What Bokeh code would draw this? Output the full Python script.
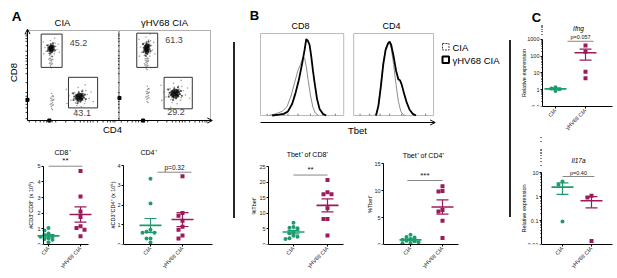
import math
import numpy as np
from bokeh.plotting import figure
from bokeh.models import (Range1d, FixedTicker, Label, Arrow, OpenHead,
                          Div, Spacer, NumeralTickFormatter)
from bokeh.layouts import row, column
from bokeh.embed import file_html
from bokeh.resources import INLINE

FONT = "Liberation Sans"
GREEN = "#1e9c6d"
MAGENTA = "#9a1c5b"

# ---------------- data ----------------
groups = ["CIA", "γHV68 CIA"]

# Panel A flow plots: gate percentages
gate_pct_cia = ["45.2", "43.1"]
gate_pct_hv = ["61.3", "29.2"]
# gates (flow units 0-100)
gate_cia_l = [15, 45]; gate_cia_r = [38, 77]; gate_cia_b = [59, 14]; gate_cia_t = [96, 48]
gate_hv_l = [19, 49]; gate_hv_r = [42, 80]; gate_hv_b = [59, 13]; gate_hv_t = [97, 48]
gate_txt_cia_x = [56, 60]; gate_txt_cia_y = [86, 8]
gate_txt_hv_x = [60, 62]; gate_txt_hv_y = [89, 9]
# cell populations (flow units): centre, spread, dense flag
clu_cia_x = [26, 26, 57, 27]; clu_cia_y = [80, 66, 26, 21]
clu_cia_sx = [2.5, 1.5, 4.2, 1.5]; clu_cia_sy = [3.5, 5, 4.2, 6]; clu_cia_dense = [1, 0, 1, 0]
clu_hv_x = [30, 30, 61, 31]; clu_hv_y = [80, 64, 30, 29]
clu_hv_sx = [2.5, 1.5, 4.5, 1.5]; clu_hv_sy = [5, 5, 4.5, 6]; clu_hv_dense = [1, 0, 1, 0]
cloud_dx = [0.1, -0.3, 0.4, -0.5, 0.7, -0.8, 0.2, -0.1, 0.9, -0.6, 1.2, -1.1, 0.5, -0.4, 1.0, -1.3, 0.3, -0.2,
            1.5, -1.6, 0.0, 0.6, -0.7, 0.8, -0.9, 0.15, -0.25, 0.35, -0.45, 0.55, 1.8, -1.9, 0.9, -0.6, 2.1, -2.0]
cloud_dy = [0.2, 0.5, -0.2, -0.4, 0.3, 0.1, -0.7, 0.9, -0.6, -0.9, 0.4, 0.6, 1.1, -1.3, 1.0, -0.5, -1.5, 1.5,
            -0.2, 0.2, 0.0, 0.6, 0.7, -1.0, -0.2, -0.35, 0.15, 0.45, -0.6, -0.45, 0.8, -1.0, 1.9, -2.0, -0.7, 1.2]
flow_ticks = [2, 9, 14, 18, 21, 24, 27, 31, 42, 52, 58, 62, 66, 69, 72, 77, 83, 88, 91, 94, 96]
zero_mark_cia = (24, 23)
zero_mark_hv = (26, 25)

# Panel A counts (x10^5)
cd8_cia = [1.05, 0.9, 0.7, 0.6, 0.55, 0.5, 0.4, 0.35, 0.3, 0.15]
cd8_hv = [4.7, 3.06, 2.1, 1.75, 1.16, 1.05, 0.95, 0.53]
cd4_cia = [3.33, 2.07, 0.75, 0.65, 0.6, 0.6, 0.3, 0.3, 0.1]
cd4_hv = [3.45, 1.6, 1.45, 1.2, 0.9, 0.75, 0.45, 0.3]

# Panel B histograms (x: Tbet scale 0-100, y: % of max)
h_cd8_hv_x = [14, 22, 28, 33, 38, 42, 46, 50, 53, 55, 57, 59, 61, 63, 65, 68, 71, 75, 79]
h_cd8_hv_y = [0, 1, 2, 5, 14, 27, 43, 63, 80, 93, 91, 86, 72, 55, 40, 20, 8, 2, 0]
h_cd8_cia_x = [10, 18, 26, 32, 37, 41, 45, 48, 51, 53, 55, 57, 60, 63, 66, 70]
h_cd8_cia_y = [0, 2, 5, 11, 25, 40, 55, 62, 71, 70, 60, 45, 25, 10, 3, 0]
h_cd4_hv_x = [28, 31, 34, 37, 40, 43, 45, 47, 50, 53, 56, 58, 60, 63, 66, 70, 74, 78]
h_cd4_hv_y = [0, 12, 35, 62, 80, 88, 90, 86, 72, 55, 44, 43, 38, 27, 17, 7, 2, 0]
h_cd4_cia_x = [28, 31, 34, 37, 40, 43, 45, 47, 50, 53, 56, 59, 62, 65]
h_cd4_cia_y = [0, 13, 38, 65, 82, 88, 88, 82, 62, 38, 17, 5, 1, 0]
hist_ticks = [8, 20, 27, 33, 45, 60, 75, 90]

# Panel B Tbet+ %
tbet_cd8_cia = [7.0, 5.6, 5.4, 5.2, 4.0, 3.6, 2.8, 2.5, 2.0, 1.8]
tbet_cd8_hv = [20.7, 16.8, 16.1, 16.1, 11.6, 8.2, 8.2, 2.9]
tbet_cd4_cia = [1.8, 1.4, 1.3, 1.0, 0.9, 0.7, 0.6, 0.4, 0.3, 0.2]
tbet_cd4_hv = [10.8, 9.9, 9.8, 6.4, 6.1, 4.4, 1.2]

# Panel C relative expression
ifng_cia = [1.4, 1.2, 1.05, 0.85]
ifng_hv = [436, 185, 11.7, 4.9]
il17a_cia = [4.2, 3.1, 0.091]
il17a_hv = [1.07, 0.91, 0.014]

sig_text = ["**", "p=0.32", "**", "***", "p=0.057", "p=0.40"]


# ---------------- helpers ----------------
def rng(d0, p0, d1, p1, pa, pb, log=False):
    """data range whose ends sit at page px pa, pb given two anchors (d0@p0, d1@p1)."""
    if log:
        d0, d1 = math.log10(d0), math.log10(d1)
    k = (d1 - d0) / (p1 - p0)
    a, b = d0 + (pa - p0) * k, d0 + (pb - p0) * k
    if log:
        return (10 ** a, 10 ** b)
    return (a, b)


class Map:
    def __init__(self, fx0, fx1, fy0, fy1, xr, yr, ylog=False):
        self.fx0, self.fx1, self.fy0, self.fy1 = fx0, fx1, fy0, fy1
        self.xr, self.yr, self.ylog = xr, yr, ylog

    def x(self, px):
        return self.xr[0] + (px - self.fx0) / (self.fx1 - self.fx0) * (self.xr[1] - self.xr[0])

    def y(self, py):
        t = (self.fy1 - py) / (self.fy1 - self.fy0)
        if self.ylog:
            a, b = math.log10(self.yr[0]), math.log10(self.yr[1])
            return 10 ** (a + t * (b - a))
        return self.yr[0] + t * (self.yr[1] - self.yr[0])

    def py(self, v):
        if self.ylog:
            a, b = math.log10(self.yr[0]), math.log10(self.yr[1])
            t = (math.log10(v) - a) / (b - a)
        else:
            t = (v - self.yr[0]) / (self.yr[1] - self.yr[0])
        return self.fy1 - t * (self.fy1 - self.fy0)


def new_fig(gx, gy, w, h, L, B, xr, yr, ylog=False, axes=True):
    kw = {}
    if not axes:
        kw = dict(x_axis_location=None, y_axis_location=None)
    p = figure(width=w, height=h, x_range=Range1d(*xr), y_range=Range1d(*yr),
               y_axis_type="log" if ylog else "linear", title=None,
               output_backend="svg", toolbar_location=None,
               min_border_left=L, min_border_right=0, min_border_top=0, min_border_bottom=B, **kw)
    p.outline_line_color = None
    p.xgrid.visible = False
    p.ygrid.visible = False
    p.background_fill_color = "white"
    p.border_fill_color = "white"
    m = Map(gx + L, gx + w, gy, gy + h - B, xr, yr, ylog)
    return p, m


def txt(p, m, px, py, text, size, style="normal", align="center", baseline="middle", color="black",
        angle=0.0):
    p.add_layout(Label(x=m.x(px), y=m.y(py), text=text, text_font=FONT, text_font_size=f"{size}px",
                       text_font_style=style, text_align=align, text_baseline=baseline,
                       text_color=color, angle=angle))


def style_axis(ax, fs=5.5):
    ax.axis_line_color = "black"
    ax.axis_line_width = 1
    ax.major_tick_line_color = "black"
    ax.major_tick_line_width = 1
    ax.major_tick_out = 2
    ax.major_tick_in = 0
    ax.minor_tick_line_color = None
    ax.major_label_text_font = FONT
    ax.major_label_text_font_size = f"{fs}px"
    ax.major_label_text_color = "#222"
    ax.major_label_standoff = 1
    ax.axis_label_text_font = FONT
    ax.axis_label_text_font_size = f"{fs}px"
    ax.axis_label_text_font_style = "normal"
    ax.axis_label_standoff = 2


def spread(vals, pxu_y, ylog, step=4.0, near=3.6):
    v = np.log10(vals) if ylog else np.asarray(vals, float)
    order = np.argsort(-v)
    placed = []
    offs = np.zeros(len(v))
    seq = [0, -1, 1, -2, 2, -3, 3]
    for i in order:
        ypx = v[i] * pxu_y
        used = {s for (yy, s) in placed if abs(yy - ypx) < near}
        slot = next(s for s in seq if s not in used)
        placed.append((ypx, slot))
        offs[i] = slot * step
    return offs


def dot_plot(box, axis_px, label_px, xanch, yanch, xend_px, a, b, ylog, yticks, ylabel,
             title, title_xy, bar_x, bar_y, sig, sig_size, title_style="normal", title_size=7):
    gx, gy, w, h, B = box
    fx0, fx1, fy0, fy1 = gx, gx + w, gy, gy + h - B
    xr = rng(xanch[0], xanch[1], xanch[2], xanch[3], fx0, fx1)
    yr = rng(yanch[0], yanch[1], yanch[2], yanch[3], fy1, fy0, ylog)
    p, m = new_fig(gx, gy, w, h, 0, B, xr, yr, ylog)
    pxu_x = (xanch[3] - xanch[1]) / (xanch[2] - xanch[0])
    if ylog:
        pxu_y = (yanch[1] - yanch[3]) / (math.log10(yanch[2]) - math.log10(yanch[0]))
    else:
        pxu_y = (yanch[1] - yanch[3]) / (yanch[2] - yanch[0])
    for k, (vals, color, marker) in enumerate([(a, GREEN, "circle"), (b, MAGENTA, "square")]):
        cat = k + 1
        vals = np.asarray(vals, float)
        off = spread(vals, pxu_y, ylog)
        p.scatter(cat + off / pxu_x, vals, marker=marker, size=4, color=color, line_width=0)
        mean = vals.mean()
        sem = vals.std(ddof=1) / math.sqrt(len(vals))
        mw, cw = 11 / pxu_x, 6 / pxu_x
        p.segment([cat - mw], [mean], [cat + mw], [mean], line_color=color, line_width=1.6)
        p.segment([cat, cat - cw, cat - cw], [mean - sem, mean + sem, mean - sem],
                  [cat, cat + cw, cat + cw], [mean + sem, mean + sem, mean - sem],
                  line_color=color, line_width=1.2)
    p.segment([bar_x[0]], [bar_y], [bar_x[1]], [bar_y], line_color="#888", line_width=1)
    p.add_layout(Label(x=(bar_x[0] + bar_x[1]) / 2, y=bar_y, text=sig, text_font=FONT,
                       text_font_size=f"{sig_size}px", text_align="center",
                       text_baseline="bottom", y_offset=1, text_color="#111"))
    txt(p, m, title_xy[0], title_xy[1], title, title_size, style=title_style)
    # y axis label, centred on the drawn axis
    if ylog:
        mid = 10 ** ((math.log10(yticks[0]) + math.log10(yticks[-1])) / 2)
    else:
        mid = (yticks[0] + yticks[-1]) / 2
    txt(p, m, label_px, m.py(mid), ylabel, 5.5, angle=math.pi / 2)
    x_ax = m.x(axis_px)
    xa = p.xaxis[0]
    style_axis(xa)
    xa.ticker = FixedTicker(ticks=[1, 2])
    xa.major_label_overrides = {1: groups[0], 2: groups[1]}
    xa.major_label_orientation = math.pi / 4
    xa.bounds = (x_ax, m.x(xend_px))
    ya = p.yaxis[0]
    style_axis(ya)
    ya.fixed_location = x_ax
    ya.bounds = (yticks[0], yticks[-1])
    if ylog:
        minors = [k * 10 ** e for e in range(-3, 4) for k in range(2, 10)]
        ya.ticker = FixedTicker(ticks=yticks, minor_ticks=minors)
        ya.formatter = NumeralTickFormatter(format="0.[00]")
        ya.minor_tick_line_color = "black"
        ya.minor_tick_out = 1
        ya.minor_tick_in = 0
    else:
        ya.ticker = FixedTicker(ticks=yticks)
    return p, m


BOT = 276   # bottom edge (page px) of the lower row of plots

# ---------------- Panel A header ----------------
hdrA, mA = new_fig(8, 8, 225, 20, 0, 0, (8, 233), (28, 8), axes=False)
txt(hdrA, mA, 16, 15.5, "A", 13.5, style="bold")
txt(hdrA, mA, 62, 22, groups[0], 9.5)
txt(hdrA, mA, 164, 22, groups[1], 9.5)

# ---------------- Panel A: flow plots ----------------
OFF = 101
fbox = (8, 28, 225, 107, 0, 0)
fxr = rng(0, 27, 201, 210, 8, 233)
fyr = rng(0, 120, 100, 30, 135, 28)
flow, mf = new_fig(*fbox, fxr, fyr)
flow.quad(left=[0, OFF], right=[100, 201], bottom=[0, 0], top=[100, 100],
          fill_color=None, line_color="#9a9a9a", line_width=0.8)
dx = np.array(cloud_dx); dy = np.array(cloud_dy)
for shift, cx, cy, sx, sy, dense in [(0, clu_cia_x, clu_cia_y, clu_cia_sx, clu_cia_sy, clu_cia_dense),
                                      (OFF, clu_hv_x, clu_hv_y, clu_hv_sx, clu_hv_sy, clu_hv_dense)]:
    for i in range(len(cx)):
        if dense[i]:
            flow.scatter(shift + cx[i] + dx * sx[i] * 1.7, cy[i] + dy * sy[i] * 1.7, size=1.6,
                         color="#666", alpha=0.6, line_width=0)
            flow.scatter(shift + cx[i] + dx * sx[i] * 0.8, cy[i] + dy * sy[i] * 0.8, size=2.2,
                         color="#111", alpha=0.7, line_width=0)
            flow.ellipse(x=[shift + cx[i]], y=[cy[i]], width=[2.2 * sx[i]], height=[2.2 * sy[i]],
                         fill_color="#000", fill_alpha=0.6, line_color=None)
        else:
            flow.scatter(shift + cx[i] + dx[:18] * sx[i], cy[i] + dy[:18] * sy[i], size=1.5,
                         color="#555", alpha=0.6, line_width=0)
flow.quad(left=gate_cia_l, right=gate_cia_r, bottom=gate_cia_b, top=gate_cia_t,
          fill_color=None, line_color="#333", line_width=1)
flow.quad(left=[v + OFF for v in gate_hv_l], right=[v + OFF for v in gate_hv_r],
          bottom=gate_hv_b, top=gate_hv_t, fill_color=None, line_color="#333", line_width=1)
for t, x, y in zip(gate_pct_cia, gate_txt_cia_x, gate_txt_cia_y):
    flow.add_layout(Label(x=x, y=y, text=t, text_font=FONT, text_font_size="9px",
                          text_align="center", text_baseline="middle"))
for t, x, y in zip(gate_pct_hv, gate_txt_hv_x, gate_txt_hv_y):
    flow.add_layout(Label(x=x + OFF, y=y, text=t, text_font=FONT, text_font_size="9px",
                          text_align="center", text_baseline="middle"))
nt = len(flow_ticks)
flow.segment(x0=[0] * nt + [OFF] * nt, y0=flow_ticks * 2, x1=[-2.2] * nt + [OFF - 1.6] * nt,
             y1=flow_ticks * 2, line_color="black", line_width=0.8)
xt = flow_ticks + [t + OFF for t in flow_ticks]
flow.segment(x0=xt, y0=[0] * len(xt), x1=xt, y1=[-2.2] * len(xt), line_color="black", line_width=0.8)
flow.scatter([zero_mark_cia[0], zero_mark_hv[0] + OFF, 0, OFF], [0, 0, zero_mark_cia[1], zero_mark_hv[1]],
             marker="square", size=3, color="black")
for ax in flow.axis:
    style_axis(ax, 9.5)
    ax.ticker = FixedTicker(ticks=[])
    ax.fixed_location = 0
flow.xaxis.bounds = (0, 201)
flow.yaxis.bounds = (0, 100)
flow.add_layout(Arrow(end=OpenHead(size=5, line_width=1), x_start=196, y_start=0, x_end=203, y_end=0,
                      line_width=1))
flow.add_layout(Arrow(end=OpenHead(size=5, line_width=1), x_start=0, y_start=94, x_end=0, y_end=101.5,
                      line_width=1))
txt(flow, mf, 112, 128.5, "CD4", 9.5)
txt(flow, mf, 13, 72, "CD8", 9.5, angle=math.pi / 2)

# ---------------- Panel A: counts ----------------
cd8p, _ = dot_plot((8, 135, 87, BOT - 135, BOT - 245), 43, 30, (1, 48, 2, 80), (0, 245, 5, 166), 88,
                   cd8_cia, cd8_hv, False, [0, 1, 2, 3, 4, 5], "#CD3⁺CD8⁺ (x 10⁵)", "CD8⁺", (62, 152),
                   (1.0, 2.06), 5.0, sig_text[0], 8)
cd4p, _ = dot_plot((95, 135, 138, BOT - 135, BOT - 244), 123, 112, (1, 150, 2, 182), (0, 244, 4, 165), 212,
                   cd4_cia, cd4_hv, False, [0, 1, 2, 3, 4], "#CD3⁺CD4⁺ (x 10⁵)", "CD4⁺", (148, 152),
                   (1.22, 2.28), 3.66, sig_text[1], 6.5)

# ---------------- Panel B: histograms ----------------
H2 = 112
hbox = (235, 8, 274, 127, 0, 0)
hxr = rng(0, 260, 100, 343.2, 235, 509)
hyr = rng(0, 115, 100, 33, 135, 8)
hist, mh = new_fig(*hbox, hxr, hyr)
y_ax = mh.y(122)
hist.quad(left=[0, H2], right=[100, 208], bottom=[0, 0], top=[100, 100],
          fill_color=None, line_color="#aaaaaa", line_width=0.8)
ht = hist_ticks + [H2 + 0.96 * v for v in hist_ticks]
hist.segment(x0=ht, y0=[0] * len(ht), x1=ht, y1=[2.2] * len(ht), line_color="#555", line_width=0.8)
hist.line(h_cd8_cia_x, h_cd8_cia_y, line_color="#8c8c8c", line_width=1)
hist.line(h_cd8_hv_x, h_cd8_hv_y, line_color="black", line_width=1.8)
hist.line([H2 + 0.96 * v for v in h_cd4_cia_x], h_cd4_cia_y, line_color="#8c8c8c", line_width=1)
hist.line([H2 + 0.96 * v for v in h_cd4_hv_x], h_cd4_hv_y, line_color="black", line_width=1.8)
# legend (boxes + labels)
hist.quad(left=[mh.x(442)], right=[mh.x(448.5)], top=[mh.y(43)], bottom=[mh.y(49.5)],
          fill_color="white", line_color="#444", line_dash="2 1", line_width=1)
hist.quad(left=[mh.x(442)], right=[mh.x(448.5)], top=[mh.y(56)], bottom=[mh.y(62.5)],
          fill_color="white", line_color="black", line_width=2)
txt(hist, mh, 452, 46.5, groups[0], 9.5, align="left")
txt(hist, mh, 452, 59.5, groups[1], 9.5, align="left")
hist.yaxis.visible = False
xa = hist.xaxis[0]
style_axis(xa, 9.5)
xa.ticker = FixedTicker(ticks=[])
xa.fixed_location = y_ax
xa.bounds = (0, 208)
hist.add_layout(Arrow(end=OpenHead(size=5, line_width=1), x_start=203, y_start=y_ax, x_end=210,
                      y_end=y_ax, line_width=1))
txt(hist, mh, 357, 130, "Tbet", 9.5)
txt(hist, mh, 254, 15, "B", 13, style="bold")
txt(hist, mh, 300, 25, "CD8", 9)
txt(hist, mh, 391, 25, "CD4", 9)

tb8, _ = dot_plot((235, 135, 123, BOT - 135, BOT - 247), 268, 253, (1, 293, 2, 327), (0, 247, 25, 167), 343,
                  tbet_cd8_cia, tbet_cd8_hv, False, [0, 5, 10, 15, 20, 25], "%Tbet⁺", "Tbet⁺ of CD8⁺",
                  (307, 155), (1.0, 2.0), 22.3, sig_text[2], 8)
tb4, _ = dot_plot((358, 135, 151, BOT - 135, BOT - 244), 383, 369, (1, 410, 2, 442), (0, 244, 15, 163), 458,
                  tbet_cd4_cia, tbet_cd4_hv, False, [0, 5, 10, 15], "%Tbet⁺", "Tbet⁺ of CD4⁺",
                  (423, 155), (0.9, 2.0), 11.85, sig_text[3], 8)

# ---------------- Panel C ----------------
CW = 102
hdrC, mC = new_fig(511, 8, CW, 16, 0, 0, (511, 511 + CW), (24, 8), axes=False)
txt(hdrC, mC, 536, 17, "C", 13, style="bold")
ifn, _ = dot_plot((511, 24, CW, 111, 23), 542, 523, (1, 555, 2, 585), (0.1, 112, 1000, 40), 612,
                  ifng_cia, ifng_hv, True, [0.1, 1, 10, 100, 1000], "Relative expression", "Ifng",
                  (578, 28), (1.4, 2.27), 774, sig_text[4], 5.5, title_style="italic", title_size=6.5)
il17, _ = dot_plot((511, 135, CW, BOT - 135, BOT - 244), 541, 523, (1, 562, 2, 591), (0.01, 244, 10, 172),
                   612, il17a_cia, il17a_hv, True, [0.01, 0.1, 1, 10], "Relative expression", "Il17a",
                   (578, 160), (1.0, 2.1), 6.8, sig_text[5], 5.5, title_style="italic", title_size=6.5)

# ---------------- layout ----------------
div1 = column(Spacer(width=2, height=34, margin=0),
              Div(text="", width=2, height=176, margin=0, styles={"background-color": "#262626"}),
              margin=0)
div2 = column(Spacer(width=2, height=32, margin=0),
              Div(text="", width=2, height=177, margin=0, styles={"background-color": "#262626"}),
              margin=0)
colA = column(hdrA, flow, row(cd8p, cd4p, margin=0), margin=0)
colB = column(hist, row(tb8, tb4, margin=0), margin=0)
colC = column(hdrC, ifn, il17, margin=0)
page = row(colA, div1, colB, div2, colC, margin=(8, 0, 0, 8))

open("out.html", "w").write(file_html(page, INLINE))
